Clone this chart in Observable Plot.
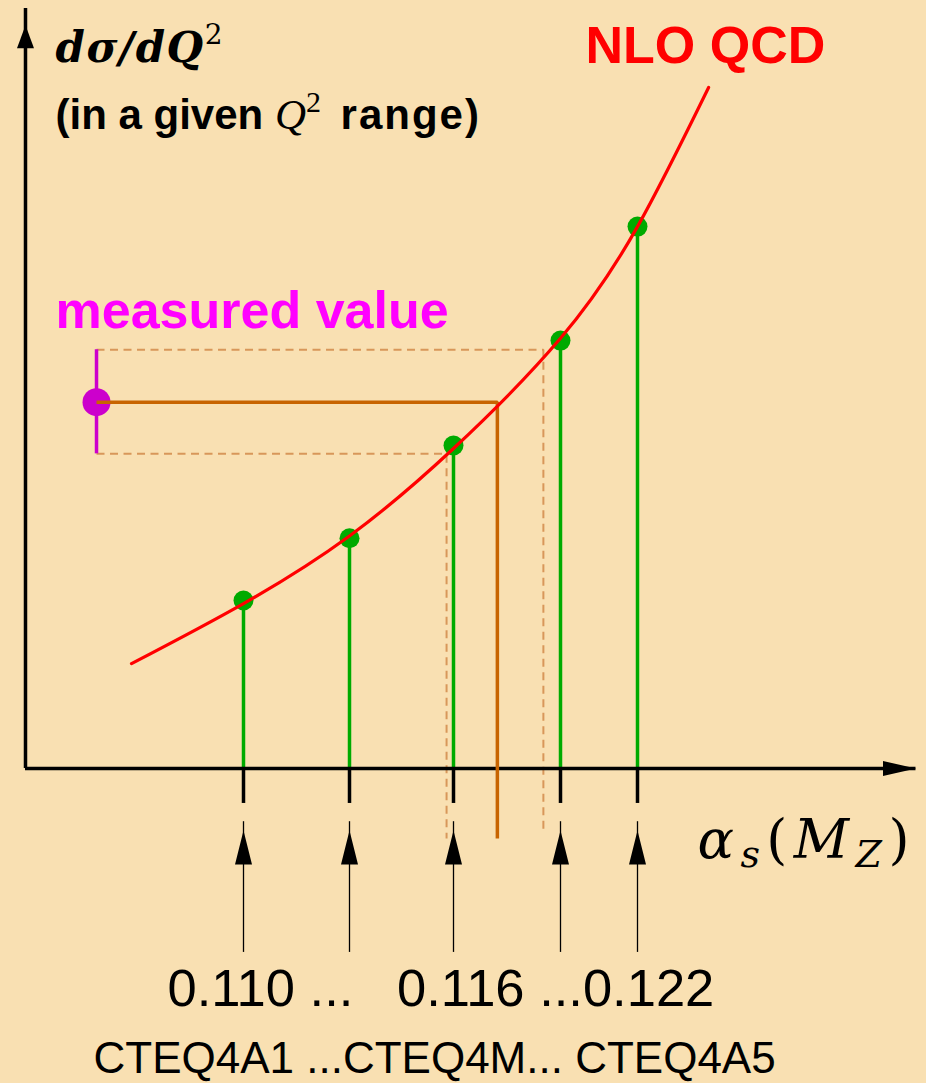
<!DOCTYPE html>
<html>
<head>
<meta charset="utf-8">
<script src="https://cdn.jsdelivr.net/npm/d3@7"></script>
<script src="https://cdn.jsdelivr.net/npm/@observablehq/plot@0.6"></script>
<style>
  html, body { margin: 0; padding: 0; background: #f9e0b2; }
  #chart svg text { white-space: pre; }
</style>
</head>
<body>
<div id="chart"></div>
<script>
// PDF sets: alpha_s(M_Z) and the NLO QCD prediction of dσ/dQ² in one Q² bin (arbitrary units)
const alphaS = [0.110, 0.113, 0.116, 0.119, 0.122];
const sigmaPred = [2.21, 3.03, 4.25, 5.63, 7.13];

// NLO QCD curve as a function of alpha_s
const curveAlpha = [0.10683, 0.110, 0.113, 0.116, 0.119, 0.122, 0.12477];
const curveSigma = [1.38, 2.17, 3.06, 4.21, 5.66, 7.13, 8.96];

// measured cross section with its error band
const measuredAlpha = 0.10584;
const measured = 4.82, measuredHi = 5.51, measuredLo = 4.14;
// alpha_s read back from the curve: central value and the two error edges
const extractedAlpha = 0.11723, extractedHi = 0.11852, extractedLo = 0.1158;

// labels under the axis
const tickLabels = ["0.110", "0.116", "0.122"];
const pdfLabels = ["CTEQ4A1", "CTEQ4M", "CTEQ4A5"];

// diagram geometry (in axis units)
const yAxisAlpha = 0.10383, xAxisEnd = 0.13285, yAxisTop = 10, yAxisTip = 9.78;
const tickDepth = -0.46, arrowTop = -0.70, arrowTip = -0.815, arrowBottom = -2.42;
const orangeBottom = -0.92, dashLoBottom = -0.92, dashHiBottom = -0.86;

const points = alphaS.map((a, i) => ({a, s: sigmaPred[i]}));
const curve = curveAlpha.map((a, i) => ({a, s: curveSigma[i]}));

// filled arrow head with its tip at the anchor, pointing up
const headUp = (len, half) => ({
  draw(ctx) { ctx.moveTo(0, 0); ctx.lineTo(half, len); ctx.lineTo(-half, len); ctx.closePath(); }
});

const sans = "Liberation Sans, Arial, Helvetica, sans-serif";
const serif = "Liberation Serif, Times New Roman, serif";
const mathSerif = "DejaVu Serif, serif";

const label = (text, o) => Plot.text([text], {
  text: d => d, frameAnchor: "top-left", textAnchor: "start", lineAnchor: "bottom",
  fontFamily: sans, ...o
});

const dashed = {x: "a", y: "s", stroke: "#d8975a", strokeWidth: 2, strokeDasharray: "8,5.5", strokeLinecap: "butt", strokeLinejoin: "miter"};

const chart = Plot.plot({
  width: 926,
  height: 1083,
  margin: 0,
  style: {background: "#f9e0b2", overflow: "visible"},
  x: {type: "linear", domain: alphaS, range: [243, 349, 453, 560, 637], axis: null},
  y: {type: "linear", domain: [0, 10], range: [768, 8], axis: null},
  marks: [
    // dashed projections of the error band
    Plot.line([{a: measuredAlpha, s: measuredHi}, {a: extractedHi, s: measuredHi}, {a: extractedHi, s: dashHiBottom}], dashed),
    Plot.line([{a: measuredAlpha, s: measuredLo}, {a: extractedLo, s: measuredLo}, {a: extractedLo, s: dashLoBottom}], dashed),

    // predictions as stems from the axis
    Plot.ruleX(points, {x: "a", y1: 0, y2: "s", stroke: "#00aa00", strokeWidth: 3.5}),

    // axes with arrow heads
    Plot.ruleY([0], {x1: yAxisAlpha, x2: xAxisEnd, stroke: "black", strokeWidth: 3.5}),
    Plot.ruleX([yAxisAlpha], {y1: 0, y2: yAxisTop, stroke: "black", strokeWidth: 3.5}),
    Plot.dot([{a: yAxisAlpha, s: yAxisTip}], {x: "a", y: "s", symbol: headUp(23, 8.5), fill: "black", stroke: "none"}),
    Plot.dot([{a: xAxisEnd, s: 0}], {x: "a", y: "s", symbol: headUp(33, 7.5), rotate: 90, fill: "black", stroke: "none"}),

    // ticks and pointer arrows below the axis
    Plot.ruleX(points, {x: "a", y1: 0, y2: tickDepth, stroke: "black", strokeWidth: 3.5}),
    Plot.ruleX(points, {x: "a", y1: arrowBottom, y2: arrowTop, stroke: "black", strokeWidth: 1.3}),
    Plot.dot(points, {x: "a", y: () => arrowTip, symbol: headUp(34, 8.5), fill: "black", stroke: "none"}),

    // measured value with error bar
    Plot.ruleX([{a: measuredAlpha}], {x: "a", y1: measuredLo, y2: measuredHi, stroke: "#cc00cc", strokeWidth: 3.5}),
    Plot.dot([{a: measuredAlpha, s: measured}], {x: "a", y: "s", r: 14, fill: "#cc00cc", stroke: "none"}),

    // projection of the central value onto the alpha_s axis
    Plot.line([{a: measuredAlpha, s: measured}, {a: extractedAlpha, s: measured}, {a: extractedAlpha, s: orangeBottom}],
      {x: "a", y: "s", stroke: "#c86400", strokeWidth: 3.5, strokeLinecap: "butt", strokeLinejoin: "miter"}),

    // prediction points and the NLO QCD curve
    Plot.dot(points, {x: "a", y: "s", r: 10, fill: "#00aa00", stroke: "none"}),
    Plot.line(curve, {x: "a", y: "s", curve: "natural", stroke: "#ff0000", strokeWidth: 3.2}),

    // texts
    label("dσ/dQ²", {dx: 55, dy: 61, fontSize: 42, fontFamily: mathSerif, fontStyle: "italic", fontWeight: "bold"}),
    label("(in a given Q² range)", {dx: 55, dy: 128, fontSize: 42, fontWeight: "bold"}),
    label("NLO QCD", {dx: 585, dy: 62, fontSize: 52, fontWeight: "bold", fill: "#ff0000"}),
    label("measured value", {dx: 55, dy: 327, fontSize: 52, fontWeight: "bold", fill: "#ff00ff"}),
    label("αs(MZ)", {dx: 697, dy: 857, fontSize: 54, fontFamily: mathSerif, fontStyle: "italic"}),
    label(`${tickLabels[0]} ...   ${tickLabels[1]} ...${tickLabels[2]}`, {dx: 167, dy: 1005, fontSize: 52.5}),
    label(`${pdfLabels[0]} ...${pdfLabels[1]}... ${pdfLabels[2]}`, {dx: 93, dy: 1072, fontSize: 44})
  ]
});

// typeset the math labels with sub- and superscripts
function typeset(svg, plain, parts, width) {
  for (const t of svg.querySelectorAll("text")) {
    if (t.textContent !== plain) continue;
    t.textContent = "";
    for (const p of parts) {
      const ts = document.createElementNS("http://www.w3.org/2000/svg", "tspan");
      ts.textContent = p.t;
      for (const [k, v] of Object.entries(p.attr || {})) ts.setAttribute(k, v);
      t.appendChild(ts);
    }
    if (width) { t.setAttribute("textLength", width); t.setAttribute("lengthAdjust", "spacing"); }
  }
}

typeset(chart, "dσ/dQ²", [
  {t: "dσ"}, {t: "/"}, {t: "dQ"},
  {t: "2", attr: {dy: -18, "font-size": 28, "font-style": "normal", "font-weight": "normal"}}
], 167);

typeset(chart, "(in a given Q² range)", [
  {t: "(in a given "},
  {t: "Q", attr: {"font-family": serif, "font-style": "italic", "font-weight": "normal", "font-size": 43}},
  {t: "2", attr: {"font-family": serif, "font-weight": "normal", "font-size": 30, dy: -17}},
  {t: " range)", attr: {dy: 17, dx: 6, "letter-spacing": 2}}
]);

typeset(chart, "αs(MZ)", [
  {t: "α"},
  {t: "s", attr: {"font-size": 38, dy: 9}},
  {t: "(", attr: {"font-style": "normal", dy: -9}},
  {t: "M"},
  {t: "Z", attr: {"font-size": 38, dy: 9}},
  {t: ")", attr: {"font-style": "normal", dy: -9}}
], 212);

document.getElementById("chart").append(chart);
</script>
</body>
</html>
